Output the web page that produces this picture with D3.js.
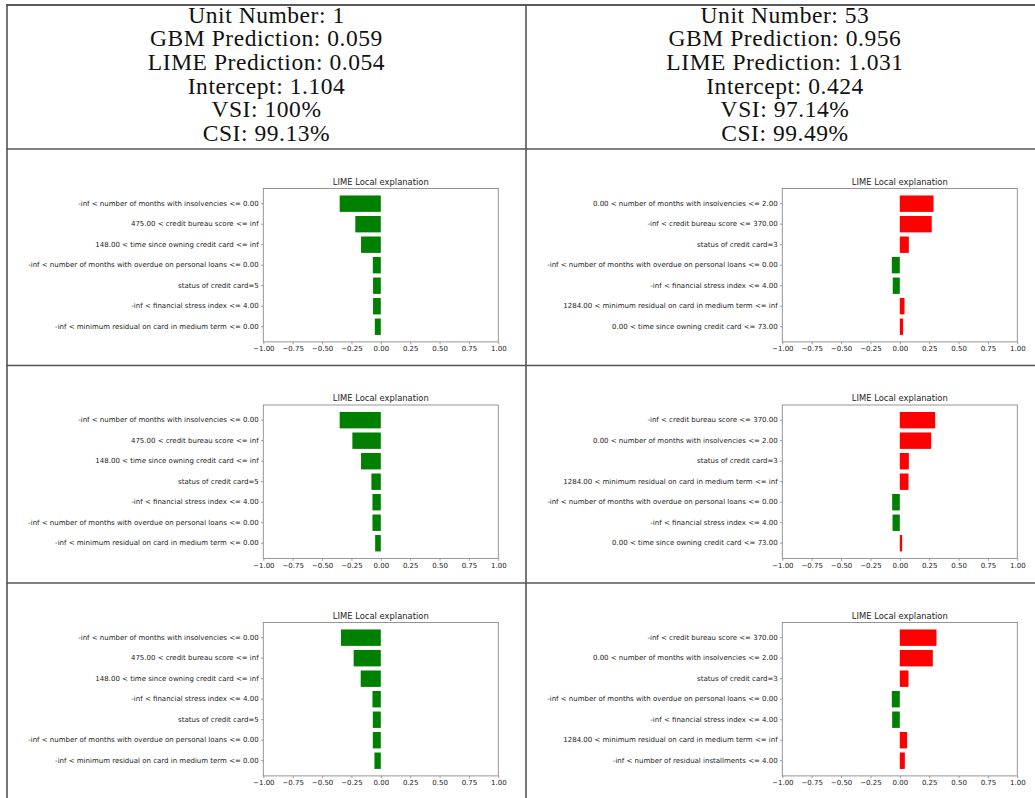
<!DOCTYPE html>
<html>
<head>
<meta charset="utf-8">
<script src="https://cdn.jsdelivr.net/npm/d3@7"></script>
<style>
  html, body { margin: 0; padding: 0; background: #fff; }
  svg { display: block; }
</style>
</head>
<body>
<svg id="chart" width="1035" height="798"></svg>
<script>
// ---------------- DATA ----------------
const headerLeft = ["Unit Number: 1", "GBM Prediction: 0.059", "LIME Prediction: 0.054",
                    "Intercept: 1.104", "VSI: 100%", "CSI: 99.13%"];
const headerRight = ["Unit Number: 53", "GBM Prediction: 0.956", "LIME Prediction: 1.031",
                     "Intercept: 0.424", "VSI: 97.14%", "CSI: 99.49%"];

const chartTitle = "LIME Local explanation";
const xTicks = [-1.00, -0.75, -0.50, -0.25, 0.00, 0.25, 0.50, 0.75, 1.00];

const labelsA1 = ["-inf < number of months with insolvencies <= 0.00",
                  "475.00 < credit bureau score <= inf",
                  "148.00 < time since owning credit card <= inf",
                  "-inf < number of months with overdue on personal loans <= 0.00",
                  "status of credit card=5",
                  "-inf < financial stress index <= 4.00",
                  "-inf < minimum residual on card in medium term <= 0.00"];
const valuesA1 = [-0.350, -0.217, -0.168, -0.068, -0.066, -0.066, -0.051];

const labelsB1 = ["0.00 < number of months with insolvencies <= 2.00",
                  "-inf < credit bureau score <= 370.00",
                  "status of credit card=3",
                  "-inf < number of months with overdue on personal loans <= 0.00",
                  "-inf < financial stress index <= 4.00",
                  "1284.00 < minimum residual on card in medium term <= inf",
                  "0.00 < time since owning credit card <= 73.00"];
const valuesB1 = [0.287, 0.272, 0.077, -0.068, -0.060, 0.040, 0.028];

const labelsA2 = ["-inf < number of months with insolvencies <= 0.00",
                  "475.00 < credit bureau score <= inf",
                  "148.00 < time since owning credit card <= inf",
                  "status of credit card=5",
                  "-inf < financial stress index <= 4.00",
                  "-inf < number of months with overdue on personal loans <= 0.00",
                  "-inf < minimum residual on card in medium term <= 0.00"];
const valuesA2 = [-0.350, -0.242, -0.168, -0.080, -0.071, -0.071, -0.048];

const labelsB2 = ["-inf < credit bureau score <= 370.00",
                  "0.00 < number of months with insolvencies <= 2.00",
                  "status of credit card=3",
                  "1284.00 < minimum residual on card in medium term <= inf",
                  "-inf < number of months with overdue on personal loans <= 0.00",
                  "-inf < financial stress index <= 4.00",
                  "0.00 < time since owning credit card <= 73.00"];
const valuesB2 = [0.301, 0.267, 0.077, 0.074, -0.065, -0.062, 0.020];

const labelsA3 = ["-inf < number of months with insolvencies <= 0.00",
                  "475.00 < credit bureau score <= inf",
                  "148.00 < time since owning credit card <= inf",
                  "-inf < financial stress index <= 4.00",
                  "status of credit card=5",
                  "-inf < number of months with overdue on personal loans <= 0.00",
                  "-inf < minimum residual on card in medium term <= 0.00"];
const valuesA3 = [-0.339, -0.231, -0.171, -0.071, -0.068, -0.068, -0.054];

const labelsB3 = ["-inf < credit bureau score <= 370.00",
                  "0.00 < number of months with insolvencies <= 2.00",
                  "status of credit card=3",
                  "-inf < number of months with overdue on personal loans <= 0.00",
                  "-inf < financial stress index <= 4.00",
                  "1284.00 < minimum residual on card in medium term <= inf",
                  "-inf < number of residual installments <= 4.00"];
const valuesB3 = [0.312, 0.281, 0.074, -0.068, -0.065, 0.062, 0.043];

const posColor = "#ff0000";
const negColor = "#008000";

// ---------------- LAYOUT ----------------
const svg = d3.select("#chart");
const colX = [7, 526];
const colCenter = [266.5, 785];
const headerTop = 5, headerBottom = 149;
const rowTop = [149, 365.5, 583];
const textColor = "#222";

// table lines
const lineColor = "#555";
svg.append("line").attr("x1", 6).attr("x2", 1035).attr("y1", headerTop).attr("y2", headerTop)
  .attr("stroke", "#222").attr("stroke-width", 1.5);
[headerBottom, rowTop[1], rowTop[2]].forEach(y => {
  svg.append("line").attr("x1", 6).attr("x2", 1035).attr("y1", y).attr("y2", y)
    .attr("stroke", lineColor).attr("stroke-width", 1.6);
});
colX.forEach(x => {
  svg.append("line").attr("x1", x).attr("x2", x).attr("y1", headerTop).attr("y2", 798)
    .attr("stroke", lineColor).attr("stroke-width", 1.6);
});

// header text
[headerLeft, headerRight].forEach((lines, c) => {
  svg.append("g").selectAll("text").data(lines).join("text")
    .attr("x", colCenter[c])
    .attr("y", (d, i) => 22.5 + i * 23.7)
    .attr("text-anchor", "middle")
    .attr("font-family", "'Liberation Serif', 'DejaVu Serif', serif")
    .attr("font-size", 23.5)
    .attr("letter-spacing", 0.55)
    .attr("fill", "#111")
    .text(d => d);
});

// panels
const panels = [
  {col: 0, row: 0, labels: labelsA1, values: valuesA1},
  {col: 1, row: 0, labels: labelsB1, values: valuesB1},
  {col: 0, row: 1, labels: labelsA2, values: valuesA2},
  {col: 1, row: 1, labels: labelsB2, values: valuesB2},
  {col: 0, row: 2, labels: labelsA3, values: valuesA3},
  {col: 1, row: 2, labels: labelsB3, values: valuesB3}
];

const axW = 235, axH = 153.4;
const spineColor = "#8a8a8a";
const fontSans = "'DejaVu Sans', sans-serif";

panels.forEach(p => {
  const left = colX[p.col] + 256.3;
  const top = rowTop[p.row] + 39.5;
  const g = svg.append("g");

  const x = d3.scaleLinear().domain([-1, 1]).range([left, left + axW]);
  const y = d3.scaleBand().domain(p.labels).range([top, top + axH])
    .paddingInner(0.2).paddingOuter(0.34);

  // bars
  g.selectAll("rect").data(p.values).join("rect")
    .attr("x", d => x(Math.min(0, d)))
    .attr("width", d => Math.abs(x(d) - x(0)))
    .attr("y", (d, i) => y(p.labels[i]))
    .attr("height", y.bandwidth())
    .attr("fill", d => d >= 0 ? posColor : negColor);

  // frame
  g.append("rect").attr("x", left).attr("y", top).attr("width", axW).attr("height", axH)
    .attr("fill", "none").attr("stroke", spineColor).attr("stroke-width", 0.9);

  // x axis
  const xAxis = d3.axisBottom(x).tickValues(xTicks).tickSize(2.4).tickPadding(2.2)
    .tickFormat(d => d3.format(".2f")(d).replace("-", "\u2212"));
  const xg = g.append("g").attr("transform", `translate(0,${top + axH})`).call(xAxis);
  xg.select(".domain").remove();
  xg.selectAll("line").attr("stroke", spineColor).attr("stroke-width", 0.8);
  xg.selectAll("text").attr("font-family", fontSans).attr("font-size", 7).attr("fill", textColor);

  // y axis
  const yAxis = d3.axisLeft(y).tickSize(2.4).tickPadding(2.2);
  const yg = g.append("g").attr("transform", `translate(${left},0)`).call(yAxis);
  yg.select(".domain").remove();
  yg.selectAll("line").attr("stroke", spineColor).attr("stroke-width", 0.8);
  yg.selectAll("text").attr("font-family", fontSans).attr("font-size", 7).attr("fill", textColor);

  // title
  g.append("text").attr("x", left + axW / 2).attr("y", top - 4)
    .attr("text-anchor", "middle").attr("font-family", fontSans)
    .attr("font-size", 8.4).attr("fill", textColor).text(chartTitle);
});
</script>
</body>
</html>
